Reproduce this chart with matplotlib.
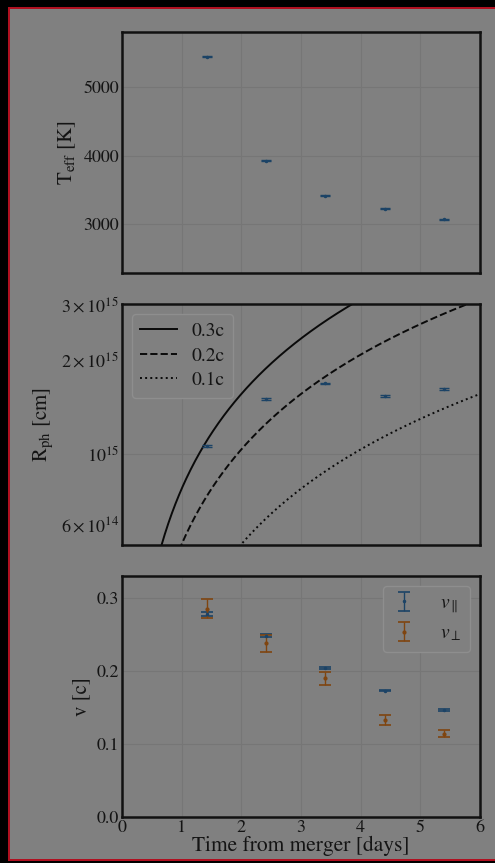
import numpy as np
import matplotlib
matplotlib.use("Agg")
import matplotlib.pyplot as plt
from matplotlib.patches import Rectangle

plt.rcParams['font.family'] = ['STIXGeneral', 'DejaVu Serif']
plt.rcParams['mathtext.fontset'] = 'stix'

# dados
t_dias = [1.43, 2.42, 3.41, 4.40, 5.40]
T_eff = [5447, 3931, 3418, 3228, 3073]
T_err = [12, 10, 8, 8, 8]
R_ph = [1.06e15, 1.50e15, 1.68e15, 1.53e15, 1.61e15]
R_err = [0.008e15, 0.008e15, 0.008e15, 0.008e15, 0.008e15]
v_par = [0.278, 0.248, 0.204, 0.173, 0.1466]
v_par_err = [0.003, 0.002, 0.0015, 0.001, 0.001]
v_perp = [0.285, 0.238, 0.190, 0.133, 0.1145]
v_perp_err = [0.013, 0.0115, 0.009, 0.007, 0.005]
velocidades = [0.3, 0.2, 0.1]
estilos = ['-', '--', ':']
rotulos_v = ['0.3c', '0.2c', '0.1c']

fundo = '#808080'
texto = '#141414'
azul = '#1c4366'
laranja = '#7f4510'
grade = '#767676'

c_cm_dia = 2.998e10 * 86400.0

fig = plt.figure(figsize=(4.95, 8.63), dpi=100, facecolor=fundo)
ax1 = fig.add_axes([0.2465, 0.684, 0.7232, 0.2793])
ax2 = fig.add_axes([0.2465, 0.3685, 0.7232, 0.2792])
ax3 = fig.add_axes([0.2465, 0.0530, 0.7232, 0.2796])

for ax in (ax1, ax2, ax3):
    ax.set_facecolor(fundo)
    ax.set_xlim(0, 6)
    ax.grid(True, color=grade, linewidth=0.8)
    ax.set_axisbelow(True)
    for s in ax.spines.values():
        s.set_linewidth(1.8)
        s.set_color('#111111')
    ax.tick_params(which='both', length=0, labelsize=13, colors=texto, pad=2)

# painel 1 - temperatura
ax1.errorbar(t_dias, T_eff, yerr=T_err, fmt='.', ms=3, color=azul,
             capsize=3.5, elinewidth=1.0, capthick=1.0)
ax1.set_ylim(2293, 5812)
ax1.set_yticks([3000, 4000, 5000])
ax1.set_xticks(range(7))
ax1.set_xticklabels([])
ax1.set_ylabel(r'$\mathrm{T_{eff}}$ [K]', fontsize=15, color=texto)

# painel 2 - raio fotosferico
t_linha = np.linspace(0.01, 6, 400)
for v, ls, lab in zip(velocidades, estilos, rotulos_v):
    ax2.plot(t_linha, v * c_cm_dia * t_linha, ls, color='#0a0a0a', lw=1.4, label=lab)
ax2.errorbar(t_dias, R_ph, yerr=R_err, fmt='.', ms=3, color=azul,
             capsize=3.5, elinewidth=1.0, capthick=1.0)
ax2.set_yscale('log')
ax2.set_ylim(5.15e14, 3.0e15)
ax2.set_xticks(range(7))
ax2.set_xticklabels([])
ax2.set_ylabel(r'$\mathrm{R_{ph}}$ [cm]', fontsize=15, color=texto)
leg2 = ax2.legend(loc='upper left', fontsize=14, facecolor=fundo, edgecolor='#8e8e8e',
                  framealpha=1, handlelength=1.9, handletextpad=0.7,
                  borderpad=0.45, labelspacing=0.35)
for tx in leg2.get_texts():
    tx.set_color(texto)

# painel 3 - velocidades
ax3.errorbar(t_dias, v_par, yerr=v_par_err, fmt='.', ms=3, color=azul,
             capsize=4, elinewidth=1.0, capthick=1.2, label=r'$v_{\parallel}$')
ax3.errorbar(t_dias, v_perp, yerr=v_perp_err, fmt='.', ms=4, color=laranja,
             capsize=4, elinewidth=1.0, capthick=1.2, label=r'$v_{\perp}$')
ax3.set_ylim(0, 0.33)
ax3.set_yticks([0.0, 0.1, 0.2, 0.3])
ax3.set_yticklabels(['0.0', '0.1', '0.2', '0.3'])
ax3.set_xticks(range(7))
ax3.set_ylabel('v [c]', fontsize=15, color=texto)
ax3.set_xlabel('Time from merger [days]', fontsize=15.5, color=texto, labelpad=0)
leg3 = ax3.legend(loc='upper right', fontsize=14, facecolor=fundo, edgecolor='#8e8e8e',
                  framealpha=1, handlelength=1.3, handletextpad=1.2, borderpad=0.45)
for tx in leg3.get_texts():
    tx.set_color(texto)

# moldura da captura de tela
W, H = 495.0, 863.0
fig.add_artist(Rectangle((0, 1 - 7 / H), 1, 7 / H, transform=fig.transFigure, color='black', lw=0))
fig.add_artist(Rectangle((0, 0), 8 / W, 1, transform=fig.transFigure, color='black', lw=0))
fig.add_artist(Rectangle((0, 0), 1, 2 / H, transform=fig.transFigure, color='black', lw=0))
fig.add_artist(Rectangle((8 / W, 1 - 9 / H), 1, 2 / H, transform=fig.transFigure, color='#b01020', lw=0))
fig.add_artist(Rectangle((8 / W, 2 / H), 2 / W, 1 - 11 / H, transform=fig.transFigure, color='#b01020', lw=0))
fig.add_artist(Rectangle((8 / W, 2 / H), 1, 2 / H, transform=fig.transFigure, color='#b01020', lw=0))

fig.savefig('out.png', dpi=100, facecolor=fundo)
